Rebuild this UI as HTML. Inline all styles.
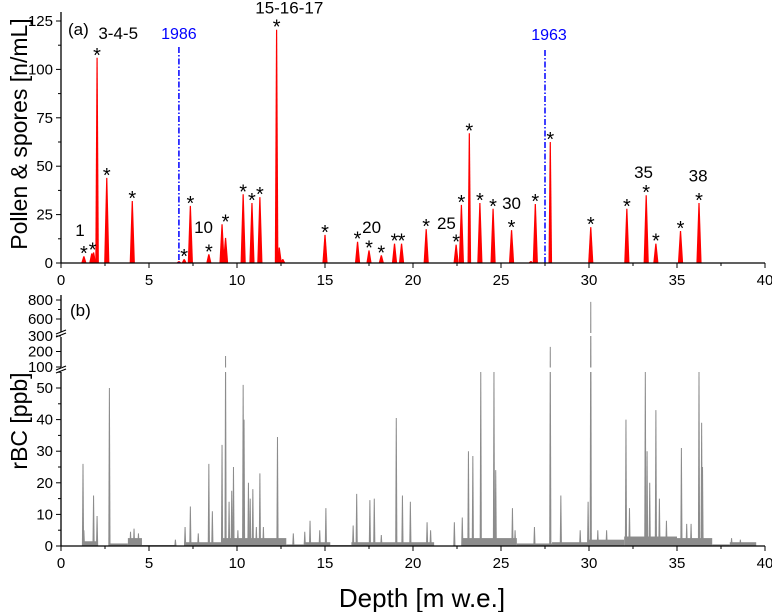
<!DOCTYPE html>
<html><head><meta charset="utf-8"><style>
body{margin:0;background:#fff;}
svg{display:block;font-family:"Liberation Sans",sans-serif;}
</style></head><body>
<svg id="chart" width="772" height="612" viewBox="0 0 772 612" xmlns="http://www.w3.org/2000/svg">
<g id="topPanel"></g>
<g id="botPanel"></g>
<text transform="translate(27,134) rotate(-90)" text-anchor="middle" font-size="23">Pollen &amp; spores [n/mL]</text>
<text transform="translate(27,421) rotate(-90)" text-anchor="middle" font-size="23">rBC [ppb]</text>
<text x="422" y="607" text-anchor="middle" font-size="26">Depth [m w.e.]</text>
</svg>
<script>
// ---- data ----
const pollenDepths=[1.3,1.75,1.85,2.05,2.6,4.05,6.7,7.0,7.35,8.4,9.15,9.35,10.35,10.85,11.3,12.25,12.4,12.6,15.0,16.85,17.5,18.2,18.95,19.35,20.75,22.45,22.75,23.2,23.8,24.55,25.6,26.7,26.95,27.8,30.1,32.15,33.25,33.8,35.2,36.25];
const pollenValues=[3.5,5,5.5,106,44,32,1,2,29.5,4.5,20,13,35.5,31,34,120.5,8,2,14.5,11,6.5,4,10,10,17.5,9.5,30,67,31,28,17,1,30.5,62.5,18.5,28,35,10,16.5,31];
const starDepths=[1.3,1.8,2.05,2.6,4.05,7.0,7.35,8.4,9.35,10.35,10.85,11.3,12.25,15.0,16.85,17.5,18.2,18.95,19.35,20.75,22.45,22.75,23.2,23.8,24.55,25.6,26.95,27.8,30.1,32.15,33.25,33.8,35.2,36.25];
const starValues=[3.5,5.5,106,44,32,2,29.5,4.5,20,35.5,31,34,120.5,14.5,11,6.5,4,10,10,17.5,9.5,30,67,31,28,17,30.5,62.5,18.5,28,35,10,16.5,31];
const numberLabels=["1","3-4-5","10","15-16-17","20","25","30","35","38"];
const numberDepths=[1.08,3.25,8.1,12.97,17.65,21.9,25.6,33.1,36.2];
const numberValues=[14,115.7,15.5,129,15.5,17.5,28,44,42];
const eventLabels=["1986","1963"];
const eventDepths=[6.7,27.5];
const xTicks=[0,5,10,15,20,25,30,35,40];
const pollenTicks=[0,25,50,75,100,125];
const rbcDepths=[1.25,1.3,1.85,2.05,2.75,3.95,4.15,4.4,6.5,7.05,7.35,7.8,8.4,8.6,9.15,9.35,9.55,9.7,9.8,10.05,10.35,10.4,10.65,10.75,10.9,11.1,11.3,11.5,12.3,13.2,13.85,14.15,14.7,15.05,16.6,16.8,17.55,17.8,18.2,19.05,19.4,19.85,20.8,21.0,22.35,22.8,23.15,23.4,23.85,24.6,24.7,25.65,25.8,26.9,27.8,28.4,29.5,29.95,30.1,30.5,31.0,32.1,32.3,33.2,33.3,33.45,33.8,34.0,34.4,35.25,35.55,35.8,36.25,36.4,36.45,38.1,38.6,39.3];
const rbcValues=[26,5,16,9.5,50,4.5,5.5,4,2,6,12.5,4,26,11,32,171,14,17.5,25,5,51,40,20,15,18,6,23,6,34.5,4,4.5,8,5,12,6.5,16.5,14.5,15,3.5,40.5,16,14,7.5,5,7.5,9,30,28.5,70,70,24,12,5,6,230,16,5,14,780,5,5,40,12,70,30,20,43,15,8,31,7,7,70,39,25,2.5,2,1];
const noiseStart=[1.25,2.7,3.8,4.6,7,9.1,12.8,13.8,15.3,16.5,19,22.8,25.9,27.9,30,32,35,37,38];
const noiseEnd=[2.1,3.8,4.6,6.5,9.1,12.8,13.8,15.3,16.5,19,21.2,25.9,27.9,30,32,35,37,38,39.5];
const noiseLevel=[1.5,0.8,2.5,0.3,1.2,2.5,0.5,1.2,0.3,1.2,1.2,2.5,0.8,1.2,2,3,2.5,0.5,1.2];
const rbcLowTicks=[0,10,20,30,40,50];
const rbcMidTicks=[100,200,300];
const rbcHighTicks=[600,800];

// ---- scales ----
const X0=61,X1=765;
const xs=d=>X0+(X1-X0)*d/40;
const ysTop=v=>263-v*(263-21)/125;
function ysBot(v){
  if(v<=55) return 546-v*(546-388)/50;
  if(v<100) return 372;
  if(v<=300) return 367-(v-100)*(367-336)/200;
  if(v<600) return 334;
  return 319-(v-600)*(319-300)/200;
}
const NS="http://www.w3.org/2000/svg";
function mk(parent,tag,attrs,txt){const e=document.createElementNS(NS,tag);for(const k in attrs)e.setAttribute(k,attrs[k]);if(txt!==undefined)e.textContent=txt;parent.appendChild(e);return e;}
const topG=document.getElementById('topPanel'), botG=document.getElementById('botPanel');

// ---- top panel ----
pollenDepths.forEach((d,i)=>{
  const v=pollenValues[i],w=v>50?1.8:2.6;
  const p=mk(topG,'polygon',{points:`${xs(d)-w},263 ${xs(d)-0.6},${ysTop(v)} ${xs(d)+0.6},${ysTop(v)} ${xs(d)+w},263`,fill:'#ff0000'});
  
  
});
starDepths.forEach((d,i)=>{
  const t=mk(topG,'text',{x:xs(d),y:ysTop(starValues[i])+4,'text-anchor':'middle','font-size':'20'},'*');
  
  
});
numberLabels.forEach((s,i)=>{
  const t=mk(topG,'text',{x:xs(numberDepths[i]),y:ysTop(numberValues[i]),'text-anchor':'middle','font-size':'17'},s);
  
  
});
eventDepths.forEach((d,i)=>{
  const l=mk(topG,'line',{x1:xs(d),x2:xs(d),y1:i?50:47,y2:263,stroke:'#0000ff','stroke-width':1.5,'stroke-dasharray':'6,2,1.5,2'});
  
  
  const t=mk(topG,'text',{x:xs(d)+(i?4:0),y:i?40:39,'text-anchor':'middle','font-size':'16',fill:'#0000ff'},eventLabels[i]);
  
  
});
const la=mk(topG,'text',{x:68,y:35,'font-size':'17'},'(a)');


mk(topG,'path',{d:`M${X0},12V263H${X1}`,fill:'none',stroke:'#000','stroke-width':1.3});
pollenTicks.forEach(v=>{
  mk(topG,'line',{x1:X0-5,x2:X0,y1:ysTop(v),y2:ysTop(v),stroke:'#000'});
  mk(topG,'line',{x1:X0-3,x2:X0,y1:ysTop(v+12.5),y2:ysTop(v+12.5),stroke:'#000'});
  const t=mk(topG,'text',{x:X0-8,y:ysTop(v)+5,'text-anchor':'end','font-size':'15'},v);
  
  
});
xTicks.forEach(v=>{
  mk(topG,'line',{x1:xs(v),x2:xs(v),y1:263,y2:268,stroke:'#000'});
  if(v<40)mk(topG,'line',{x1:xs(v+2.5),x2:xs(v+2.5),y1:263,y2:266,stroke:'#000'});
  const t=mk(topG,'text',{x:xs(v),y:285,'text-anchor':'middle','font-size':'15'},v);
  
  
});

// ---- bottom panel ----
noiseStart.forEach((s,i)=>{
  const r=mk(botG,'rect',{x:xs(s),y:ysBot(noiseLevel[i]),width:xs(noiseEnd[i])-xs(s),height:546-ysBot(noiseLevel[i]),fill:'#8c8c8c'});
  
  
});
rbcDepths.forEach((d,i)=>{
  const v=rbcValues[i],w=1.1;
  const p=mk(botG,'polygon',{points:`${xs(d)-w},546 ${xs(d)-0.5},${ysBot(v)} ${xs(d)+0.5},${ysBot(v)} ${xs(d)+w},546`,fill:'#8c8c8c'});
  
  
});
mk(botG,'rect',{x:X0+1,y:367.5,width:X1-X0,height:4.5,fill:'#fff'});
mk(botG,'rect',{x:X0+1,y:333,width:X1-X0,height:3,fill:'#fff'});
const lb=mk(botG,'text',{x:70,y:316,'font-size':'17'},'(b)');


mk(botG,'path',{d:`M${X0},295V332M${X0},337V367M${X0},372V546H${X1}`,fill:'none',stroke:'#000','stroke-width':1.3});
[333,369].forEach(y=>{
  mk(botG,'path',{d:`M${X0-5},${y+1}L${X0+5},${y-3}M${X0-5},${y+4}L${X0+5},${y}`,stroke:'#000','stroke-width':1.2,fill:'none'});
});
rbcLowTicks.forEach(v=>{
  mk(botG,'line',{x1:X0-5,x2:X0,y1:ysBot(v),y2:ysBot(v),stroke:'#000'});
  mk(botG,'line',{x1:X0-3,x2:X0,y1:ysBot(v+5),y2:ysBot(v+5),stroke:'#000'});
  const t=mk(botG,'text',{x:X0-8,y:ysBot(v)+5,'text-anchor':'end','font-size':'15'},v);
  
  
});
rbcMidTicks.concat(rbcHighTicks).forEach(v=>{
  mk(botG,'line',{x1:X0-5,x2:X0,y1:ysBot(v),y2:ysBot(v),stroke:'#000'});
  const t=mk(botG,'text',{x:X0-8,y:ysBot(v)+5,'text-anchor':'end','font-size':'15'},v);
  
  
});
mk(botG,'line',{x1:X0-3,x2:X0,y1:ysBot(700),y2:ysBot(700),stroke:'#000'});
xTicks.forEach(v=>{
  mk(botG,'line',{x1:xs(v),x2:xs(v),y1:546,y2:551,stroke:'#000'});
  if(v<40)mk(botG,'line',{x1:xs(v+2.5),x2:xs(v+2.5),y1:546,y2:549,stroke:'#000'});
  const t=mk(botG,'text',{x:xs(v),y:568,'text-anchor':'middle','font-size':'15'},v);
  
  
});
</script>
</body></html>
